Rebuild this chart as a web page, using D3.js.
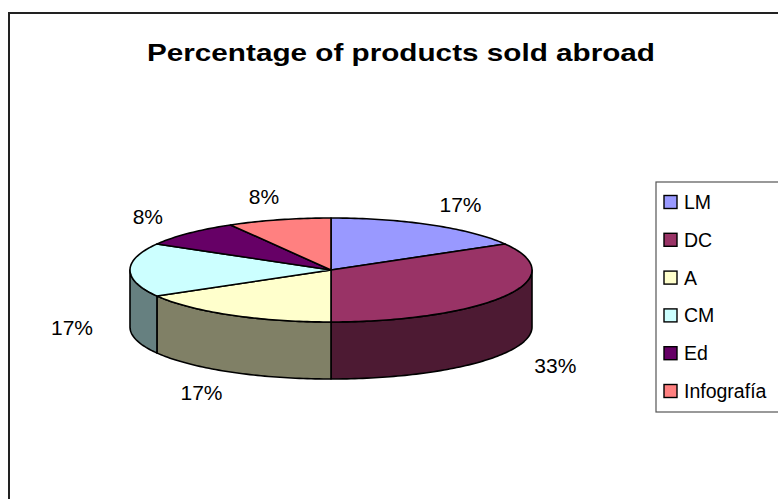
<!DOCTYPE html>
<html>
<head>
<meta charset="utf-8">
<script src="https://cdn.jsdelivr.net/npm/d3@7"></script>
<style>
  html, body { margin: 0; padding: 0; background: #fff; }
  svg { display: block; font-family: "Liberation Sans", Arial, sans-serif; }
</style>
</head>
<body>
<svg id="chart" width="778" height="499"></svg>
<script>
// Products sold abroad, by product line
const categories = ["LM", "DC", "A", "CM", "Ed", "Infografía"];
const counts = [2, 4, 2, 2, 1, 1];
const topColors = ["#9999FF", "#993366", "#FFFFCC", "#CCFFFF", "#660066", "#FF8080"];
const titleText = "Percentage of products sold abroad";

const svg = d3.select("#chart");
const W = 778, H = 499;

// Outer chart frame (runs off the right and bottom edges)
svg.append("rect")
  .attr("x", 9).attr("y", 13)
  .attr("width", W + 20).attr("height", H + 20)
  .attr("fill", "#fff").attr("stroke", "#222").attr("stroke-width", 2);

svg.append("text")
  .attr("x", 401).attr("y", 61)
  .attr("text-anchor", "middle")
  .attr("font-size", 24).attr("font-weight", "bold")
  .attr("textLength", 508).attr("lengthAdjust", "spacingAndGlyphs")
  .attr("fill", "#000")
  .text(titleText);

// 3D pie geometry: an ellipse seen from above, with a wall of given depth
const cx = 331, cy = 270, rx = 201, ry = 52, depth = 57;
const total = d3.sum(counts);
const pct = d3.format(".0%");

const pie = d3.pie().sort(null).value(d => d)
  .startAngle(0).endAngle(2 * Math.PI);
const arcs = pie(counts);

// angle measured clockwise from 12 o'clock
const px = a => cx + rx * Math.sin(a);
const py = (a, dy = 0) => cy - ry * Math.cos(a) + dy;

function arcPoints(a0, a1, dy) {
  const n = Math.max(2, Math.ceil((a1 - a0) / 0.02));
  return d3.range(n + 1).map(i => {
    const a = a0 + (a1 - a0) * i / n;
    return [px(a), py(a, dy)];
  });
}

const line = d3.line();
const sideColor = c => {
  const k = d3.rgb(c);
  return d3.rgb(k.r / 2, k.g / 2, k.b / 2).toString();
};

// Outer walls: only the part of each slice on the front half (90°..270°)
const walls = svg.append("g");
arcs.forEach((d, i) => {
  const a0 = Math.max(d.startAngle, Math.PI / 2);
  const a1 = Math.min(d.endAngle, 3 * Math.PI / 2);
  if (a1 <= a0) return;
  const top = arcPoints(a0, a1, 0);
  const bottom = arcPoints(a0, a1, depth).reverse();
  walls.append("path")
    .attr("d", line(top.concat(bottom)) + "Z")
    .attr("fill", sideColor(topColors[i]))
    .attr("stroke", "#000").attr("stroke-width", 1.6)
    .attr("stroke-linejoin", "round");
});

// Top faces
const tops = svg.append("g");
arcs.forEach((d, i) => {
  const pts = [[cx, cy]].concat(arcPoints(d.startAngle, d.endAngle, 0));
  tops.append("path")
    .attr("d", line(pts) + "Z")
    .attr("fill", topColors[i])
    .attr("stroke", "#000").attr("stroke-width", 1.6)
    .attr("stroke-linejoin", "round");
});

// Percentage labels around the pie
const lx = 259, ly = 76;
const labels = svg.append("g");
arcs.forEach((d, i) => {
  const m = (d.startAngle + d.endAngle) / 2;
  const front = Math.cos(m) <= 0 ? depth : 0;
  const x = cx + lx * Math.sin(m);
  const y = cy - ly * Math.cos(m) + front;
  labels.append("text")
    .attr("x", x).attr("y", y)
    .attr("text-anchor", "middle")
    .attr("dominant-baseline", "central")
    .attr("font-size", 21).attr("fill", "#000")
    .text(pct(d.value / total));
});

// Legend
const legend = svg.append("g");
legend.append("rect")
  .attr("x", 656).attr("y", 182)
  .attr("width", 140).attr("height", 230)
  .attr("fill", "#fff").attr("stroke", "#555").attr("stroke-width", 1.2);

const rowY = d3.scalePoint().domain(categories).range([202, 391]);
categories.forEach((c, i) => {
  const y = rowY(c);
  legend.append("rect")
    .attr("x", 664).attr("y", y - 6.5)
    .attr("width", 13).attr("height", 13)
    .attr("fill", topColors[i]).attr("stroke", "#000").attr("stroke-width", 1.4);
  legend.append("text")
    .attr("x", 684).attr("y", y)
    .attr("dominant-baseline", "central")
    .attr("font-size", 19.5).attr("fill", "#000")
    .text(c);
});
</script>
</body>
</html>
